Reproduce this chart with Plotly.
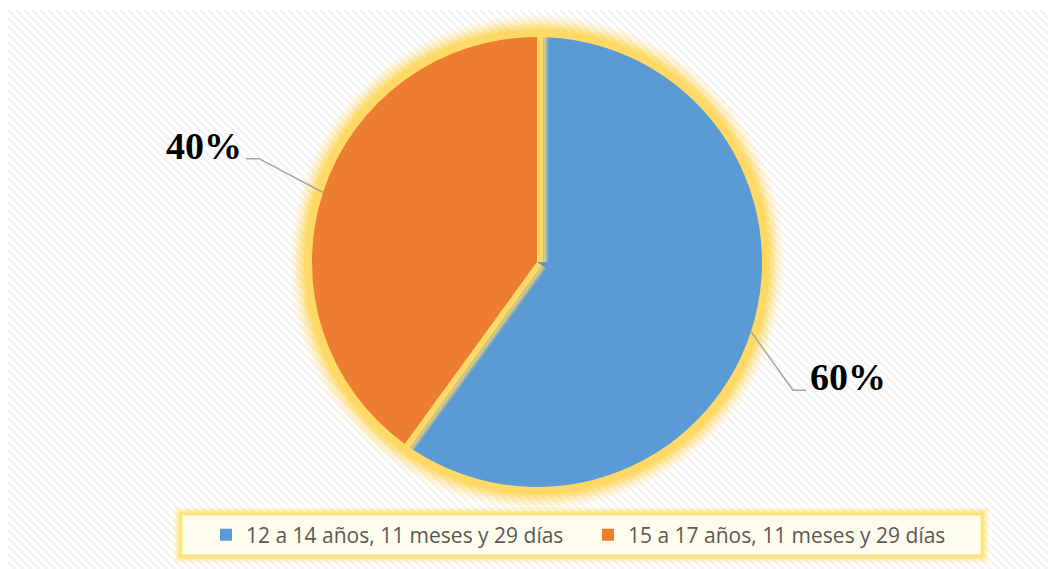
import math
import plotly.graph_objects as go

# ---- data ----
categories = ["12 a 14 años, 11 meses y 29 días", "15 a 17 años, 11 meses y 29 días"]
values = [60, 40]
colors = ["#5B9BD5", "#ED7D31"]
label_nudge = [(-10, 11), (-12, -12)]  # label placement nudges in px (style)

W, H = 1056, 569
OFF = 8  # page body margin
CX, CY, R = 537, 262, 225  # pie centre / radius in page pixels

def px(x):
    return (x - OFF) / W

def py(y):
    return 1 - (y - OFF) / H

fig = go.Figure()
fig.add_trace(go.Pie(
    labels=categories, values=values, sort=False, direction="clockwise", rotation=0,
    marker=dict(colors=colors, line=dict(width=0)),
    textinfo="none", hoverinfo="label+percent",
    domain=dict(x=[px(CX - R), px(CX + R)], y=[py(CY + R), py(CY - R)]),
))

shapes = []
# background with diagonal hatch
BX0, BY0, BX1, BY1 = 7, 10, W + OFF, H + OFF
shapes.append(dict(type="rect", xref="paper", yref="paper", x0=px(BX0), x1=px(BX1),
                   y0=py(BY1), y1=py(BY0), fillcolor="#FFFFFF", line=dict(width=0), layer="below"))
segs = []
step = 8
h = BY1 - BY0
for x0 in range(BX0 - h, BX1, step):
    xa, ya = x0, BY0
    xb, yb = x0 + h, BY1
    if xa < BX0:
        ya = BY0 + (BX0 - xa)
        xa = BX0
    if xb > BX1:
        yb = BY1 - (xb - BX1)
        xb = BX1
    if ya >= yb:
        continue
    segs.append(f"M{px(xa):.5f},{py(ya):.5f}L{px(xb):.5f},{py(yb):.5f}")
shapes.append(dict(type="path", xref="paper", yref="paper", path="".join(segs),
                   line=dict(color="#F3F3F3", width=2.5), layer="below"))

def circle(r, color, opacity, layer="below"):
    return dict(type="circle", xref="paper", yref="paper",
                x0=px(CX - r), x1=px(CX + r), y0=py(CY + r), y1=py(CY - r),
                fillcolor=color, opacity=opacity, line=dict(width=0), layer=layer)

# glow around the pie
for dr, op in [(22, 0.10), (19, 0.14), (16, 0.2), (13, 0.3), (11, 0.5)]:
    shapes.append(circle(R + dr, "#FFD966", op))
shapes.append(circle(R + 8, "#FFD966", 1.0))

# slice separators (yellow), set on the first slice's side of each boundary
total = sum(values)
cum = 0
for i, v in enumerate(values):
    for f, sgn in ((cum / total, 1), ((cum + v) / total, -1)):
        if i != 0:
            continue
        th = 2 * math.pi * f
        nx, ny = math.cos(th) * sgn, math.sin(th) * sgn  # perpendicular toward slice 0
        dx, dy = math.sin(th), -math.cos(th)
        for width, color, shift, op in ((4, "#FFD966", 9, 0.35), (4, "#FFD966", 7, 0.6),
                                        (6, "#FFD966", 3, 1.0)):
            sx, sy = CX + nx * shift, CY + ny * shift
            ex, ey = sx + dx * (R + 3), sy + dy * (R + 3)
            shapes.append(dict(type="line", xref="paper", yref="paper",
                               x0=px(sx), y0=py(sy), x1=px(ex), y1=py(ey), opacity=op,
                               line=dict(color=color, width=width), layer="above"))
    cum += v

# labels with leader lines, placed at slice mid-angles
annotations = []
cum = 0
for v, (ndx, ndy) in zip(values, label_nudge):
    mid = (cum + v / 2) / total
    cum += v
    th = 2 * math.pi * mid
    ex, ey = CX + R * math.sin(th), CY - R * math.cos(th)
    lx, ly = CX + 1.5 * R * math.sin(th) + ndx, CY - 1.5 * R * math.cos(th) + ndy
    side = 1 if math.sin(th) >= 0 else -1
    half = 36
    hy = ly + 13
    hx_near = lx - side * (half + 6)
    hx_far = hx_near - side * 13
    path = (f"M{px(ex):.5f},{py(ey):.5f}L{px(hx_far):.5f},{py(hy):.5f}"
            f"L{px(hx_near):.5f},{py(hy):.5f}")
    shapes.append(dict(type="path", xref="paper", yref="paper", path=path,
                       line=dict(color="#A6A6A6", width=1.5), layer="above"))
    annotations.append(dict(x=px(lx), y=py(ly), xref="paper", yref="paper",
                            text=f"<b>{v}%</b>", showarrow=False,
                            font=dict(family="Liberation Serif", size=38, color="#000000"),
                            xanchor="center", yanchor="middle"))

# legend box with glow
LX0, LY0, LX1, LY1 = 181, 514, 982, 556
for d, op in [(7, 0.15), (5, 0.25), (3, 0.45)]:
    shapes.append(dict(type="rect", xref="paper", yref="paper",
                       x0=px(LX0 - d), x1=px(LX1 + d), y0=py(LY1 + d), y1=py(LY0 - d),
                       fillcolor="#FFE066", opacity=op, line=dict(width=0), layer="below"))
shapes.append(dict(type="rect", xref="paper", yref="paper",
                   x0=px(LX0), x1=px(LX1), y0=py(LY1), y1=py(LY0),
                   fillcolor="#FEFCEC", line=dict(color="#FFE47A", width=3), layer="below"))

fig.update_layout(
    width=W, height=H,
    margin=dict(l=0, r=0, t=0, b=0),
    paper_bgcolor="#FFFFFF",
    shapes=shapes,
    annotations=annotations,
    showlegend=True,
    legend=dict(orientation="h", x=px(206), y=py(535), xanchor="left", yanchor="middle",
                bgcolor="rgba(0,0,0,0)", font=dict(family="Open Sans", size=21, color="#595959"),
                entrywidth=337, entrywidthmode="pixels", traceorder="normal"),
)

fig.write_html("out.html")
